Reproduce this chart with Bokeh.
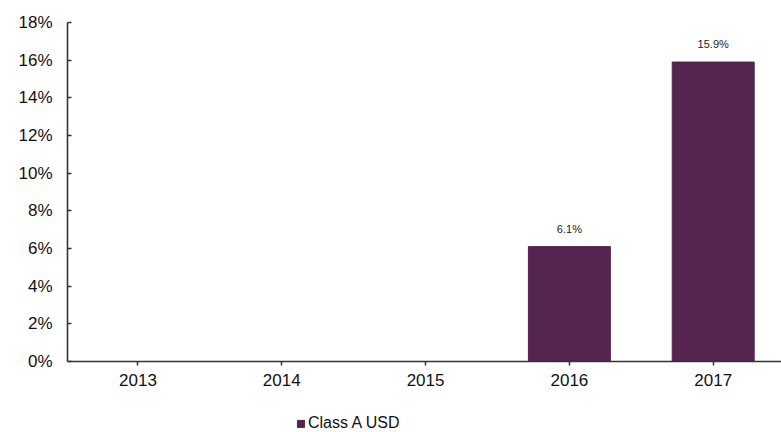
from bokeh.plotting import figure
from bokeh.models import ColumnDataSource, Range1d, FixedTicker, Legend, LegendItem
from bokeh.core.properties import value
from bokeh.embed import file_html
from bokeh.resources import INLINE

years = ["2013", "2014", "2015", "2016", "2017"]
returns = [None, None, None, 6.1, 15.9]
series_name = "Class A USD"
y_ticks = [0, 2, 4, 6, 8, 10, 12, 14, 16, 18]

idx = [i for i, v in enumerate(returns) if v is not None]
src = ColumnDataSource(dict(
    x=idx,
    top=[returns[i] for i in idx],
    lbl=["%.1f%%" % returns[i] for i in idx],
))

FONT = "Liberation Sans"
BAR = "#55254F"

# frame spans 22..432 px; value 0 sits at 361 px, 18 at 22 px
px_per_unit = (361 - 22) / 18.0
y_bottom = -(432 - 361) / px_per_unit

p = figure(width=781, height=432, output_backend="svg", toolbar_location=None,
           x_range=Range1d(-0.49, 4.475), y_range=Range1d(y_bottom, 18),
           min_border_left=67, min_border_right=0, min_border_top=22, min_border_bottom=0)
p.outline_line_color = None
p.grid.grid_line_color = None

r = p.vbar(x="x", top="top", width=0.57, color=BAR, source=src)
p.text(x="x", y="top", text="lbl", source=src, text_align="center", text_baseline="bottom",
       y_offset=-12, text_font=value(FONT), text_font_size="11px", text_color="#222222")

p.xaxis.ticker = FixedTicker(ticks=list(range(len(years))))
p.xaxis.major_label_overrides = {i: y for i, y in enumerate(years)}
p.xaxis.fixed_location = 0
p.yaxis.ticker = FixedTicker(ticks=y_ticks)
p.yaxis.major_label_overrides = {t: "%d%%" % t for t in y_ticks}
p.yaxis.bounds = (0, 18)

for ax in (p.xaxis[0], p.yaxis[0]):
    ax.axis_line_color = "#333333"
    ax.axis_line_width = 1.6
    ax.major_tick_line_color = "#333333"
    ax.major_tick_line_width = 1.5
    ax.minor_tick_line_color = None
    ax.major_label_text_font = FONT
    ax.major_label_text_font_size = "17px"
    ax.major_label_text_color = "#111111"

p.xaxis.major_tick_in = 0
p.xaxis.major_tick_out = 4
p.xaxis.major_label_standoff = 8
p.yaxis.major_tick_in = 4
p.yaxis.major_tick_out = 0
p.yaxis.major_label_standoff = 15

legend = Legend(items=[LegendItem(label=series_name, renderers=[r])],
                location=(229, 0), orientation="horizontal",
                border_line_color=None, background_fill_alpha=0,
                glyph_width=9, glyph_height=9, label_standoff=3,
                label_text_font=FONT, label_text_font_size="16px",
                label_text_color="#111111", padding=0, margin=0, spacing=0)
p.add_layout(legend, "center")

open("out.html", "w").write(file_html(p, INLINE))
